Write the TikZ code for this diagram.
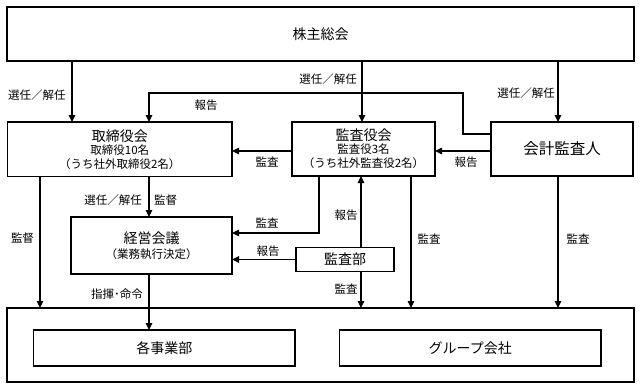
\documentclass[tikz,border=0pt]{standalone}
\usepackage{fontspec}
\setmainfont{Noto Sans CJK JP}
\usetikzlibrary{arrows.meta}
\tikzset{
  box/.style={draw, line width=1.8pt, inner sep=0pt, outer sep=0pt, align=center, font=\fontsize{14pt}{16pt}\selectfont},
  conn/.style={line width=1.1pt},
  arr/.style={conn, -{Triangle[length=7pt,width=6.5pt]}},
  lbl/.style={inner sep=0pt, font=\fontsize{11.5pt}{13pt}\selectfont},
}
\newcommand{\subfs}{\fontsize{11.5pt}{13pt}\selectfont}
\begin{document}
\begin{tikzpicture}[x=1pt,y=-1pt]
\fill[white] (0,0) rectangle (643,391);
% x / y guide coordinates
\coordinate (x40) at (40,0);
\coordinate (x72) at (72,0);
\coordinate (x149) at (149,0);
\coordinate (x319) at (319,0);
\coordinate (x361) at (361,0);
\coordinate (x362) at (362,0);
\coordinate (x411) at (411,0);
\coordinate (x463) at (463,0);
\coordinate (x558) at (558,0);
\coordinate (y93) at (0,93);
\coordinate (y134) at (0,134);
\coordinate (y151) at (0,151);
\coordinate (y233) at (0,233);
\coordinate (y259) at (0,259.5);

% boxes
\node[box, minimum width=627pt, minimum height=54pt] (top) at (320.5,34) {株主総会};
\node[box, minimum width=224.5pt, minimum height=54.5pt] (tori) at (119.75,149.25)
  {取締役会\\[-3pt]{\subfs 取締役10名}\\[-2pt]{\subfs （うち社外取締役2名）}};
\node[box, minimum width=143pt, minimum height=54pt] (kansa) at (363.5,149)
  {監査役会\\[-3pt]{\subfs 監査役3名}\\[-2pt]{\subfs （うち社外監査役2名）}};
\node[box, minimum width=142pt, minimum height=54pt, font=\fontsize{15.5pt}{17pt}\selectfont] (kaikei) at (562,149) {会計監査人};
\node[box, minimum width=161pt, minimum height=57pt] (keiei) at (151.5,245.5)
  {経営会議\\[-1pt]{\subfs （業務執行決定）}};
\node[box, minimum width=98pt, minimum height=24pt] (kansabu) at (345,259.5) {監査部};
\node[box, minimum width=627pt, minimum height=74pt] (big) at (320.5,345) {};
\node[box, minimum width=261.5pt, minimum height=36pt] (jigyo) at (164.25,348) {各事業部};
\node[box, minimum width=261.5pt, minimum height=36pt] (group) at (470.25,348) {グループ会社};

% connectors
\draw[arr] (x72 |- top.south) -- (x72 |- tori.north);
\draw[arr] (x362 |- top.south) -- (x362 |- kansa.north);
\draw[arr] (x558 |- top.south) -- (x558 |- kaikei.north);
\draw[arr] (kaikei.west |- y134) -| (x463 |- y93) -| (x149 |- tori.north);
\draw[arr] (kansa.west |- y151) -- (tori.east |- y151);
\draw[arr] (kaikei.west |- y151) -- (kansa.east |- y151);
\draw[arr] (x149 |- tori.south) -- (x149 |- keiei.north);
\draw[arr] (x319 |- kansa.south) |- (keiei.east |- y233);
\draw[arr] (kansabu.west |- y259) -- (keiei.east |- y259);
\draw[arr] (x361 |- kansabu.north) -- (x361 |- kansa.south);
\draw[arr] (x361 |- kansabu.south) -- (x361 |- big.north);
\draw[arr] (x411 |- kansa.south) -- (x411 |- big.north);
\draw[arr] (x558 |- kaikei.south) -- (x558 |- big.north);
\draw[arr] (x40 |- tori.south) -- (x40 |- big.north);
\draw[arr] (x149 |- keiei.south) -- (x149 |- jigyo.north);

% labels
\node[lbl] (l1) at (37,95) {選任／解任};
\node[lbl] (l2) at (328,79) {選任／解任};
\node[lbl] (l3) at (526,93) {選任／解任};
\node[lbl] (l4) at (206,105) {報告};
\node[lbl] (l5) at (267,162) {監査};
\node[lbl] (l6) at (466,162) {報告};
\node[lbl] (l7) at (113,200) {選任／解任};
\node[lbl] (l8) at (165.5,200) {監督};
\node[lbl] (l9) at (22.5,238) {監督};
\node[lbl] (l10) at (267,223) {監査};
\node[lbl] (l11) at (268,251) {報告};
\node[lbl] (l12) at (346,215) {報告};
\node[lbl] (l13) at (346,289) {監査};
\node[lbl] (l14) at (429,239) {監査};
\node[lbl] (l15) at (578,239) {監査};
\node[lbl] (l16) at (117,294) {指揮･命令};
\end{tikzpicture}
\end{document}
